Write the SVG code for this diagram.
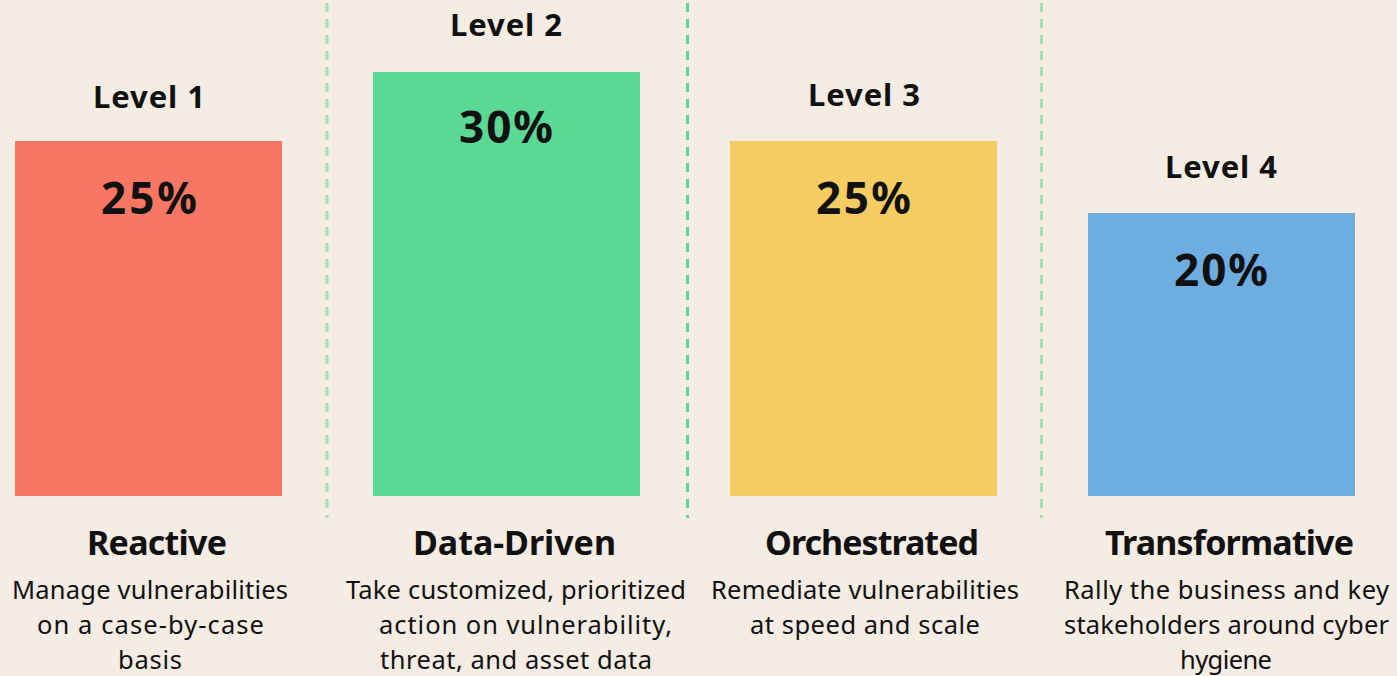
<svg xmlns="http://www.w3.org/2000/svg" width="1397" height="676" viewBox="0 0 1397 676">
<style>
text{font-family:"Noto Sans","Open Sans","Liberation Sans",sans-serif;fill:#111;text-anchor:middle}
.lvl{font-size:31px;font-weight:700}
.pct{font-size:44px;font-weight:700}
.ttl{font-size:34px;font-weight:700}
.dsc{font-size:25.5px;font-weight:400}
.div{stroke-width:3;stroke-dasharray:9 7;fill:none}
</style>
<rect width="1397" height="676" fill="#f5ece3"/>
<g id="connectors">
<line class="div" x1="327" y1="3" x2="327" y2="518" stroke="#a3e0b8"/>
<line class="div" x1="687.5" y1="3" x2="687.5" y2="518" stroke="#5ad893"/>
<line class="div" x1="1041.5" y1="3" x2="1041.5" y2="518" stroke="#a3e0b8"/>
</g>
<g id="level1">
<text class="lvl" x="149" y="108" textLength="112" lengthAdjust="spacing">Level 1</text>
<rect x="15" y="141" width="267" height="355" fill="#f77763"/>
<text class="pct" x="149" y="214" textLength="96" lengthAdjust="spacing">25%</text>
<text class="ttl" x="157" y="555" textLength="140" lengthAdjust="spacing">Reactive</text>
<text class="dsc" x="150" y="599" textLength="276" lengthAdjust="spacing">Manage vulnerabilities</text>
<text class="dsc" x="150.5" y="634" textLength="227" lengthAdjust="spacing">on a case-by-case</text>
<text class="dsc" x="150" y="669" textLength="64" lengthAdjust="spacing">basis</text>
</g>
<g id="level2">
<text class="lvl" x="506" y="36" textLength="112" lengthAdjust="spacing">Level 2</text>
<rect x="373" y="72" width="267" height="424" fill="#5bd894"/>
<text class="pct" x="506" y="143" textLength="94" lengthAdjust="spacing">30%</text>
<text class="ttl" x="514.5" y="555" textLength="203" lengthAdjust="spacing">Data-Driven</text>
<text class="dsc" x="516" y="599" textLength="340" lengthAdjust="spacing">Take customized, prioritized</text>
<text class="dsc" x="525.5" y="634" textLength="293" lengthAdjust="spacing">action on vulnerability,</text>
<text class="dsc" x="516" y="669" textLength="272" lengthAdjust="spacing">threat, and asset data</text>
</g>
<g id="level3">
<text class="lvl" x="864" y="106" textLength="112" lengthAdjust="spacing">Level 3</text>
<rect x="730" y="141" width="267" height="355" fill="#f5cd63"/>
<text class="pct" x="863.5" y="214" textLength="95" lengthAdjust="spacing">25%</text>
<text class="ttl" x="872" y="555" textLength="214" lengthAdjust="spacing">Orchestrated</text>
<text class="dsc" x="865" y="599" textLength="308" lengthAdjust="spacing">Remediate vulnerabilities</text>
<text class="dsc" x="865" y="634" textLength="230" lengthAdjust="spacing">at speed and scale</text>
</g>
<g id="level4">
<text class="lvl" x="1221" y="178" textLength="112" lengthAdjust="spacing">Level 4</text>
<rect x="1088" y="213" width="267" height="283" fill="#6eaddf"/>
<text class="pct" x="1221" y="286" textLength="94" lengthAdjust="spacing">20%</text>
<text class="ttl" x="1229.5" y="555" textLength="249" lengthAdjust="spacing">Transformative</text>
<text class="dsc" x="1226.5" y="599" textLength="325" lengthAdjust="spacing">Rally the business and key</text>
<text class="dsc" x="1226.5" y="634" textLength="325" lengthAdjust="spacing">stakeholders around cyber</text>
<text class="dsc" x="1226" y="669" textLength="92" lengthAdjust="spacing">hygiene</text>
</g>
</svg>
